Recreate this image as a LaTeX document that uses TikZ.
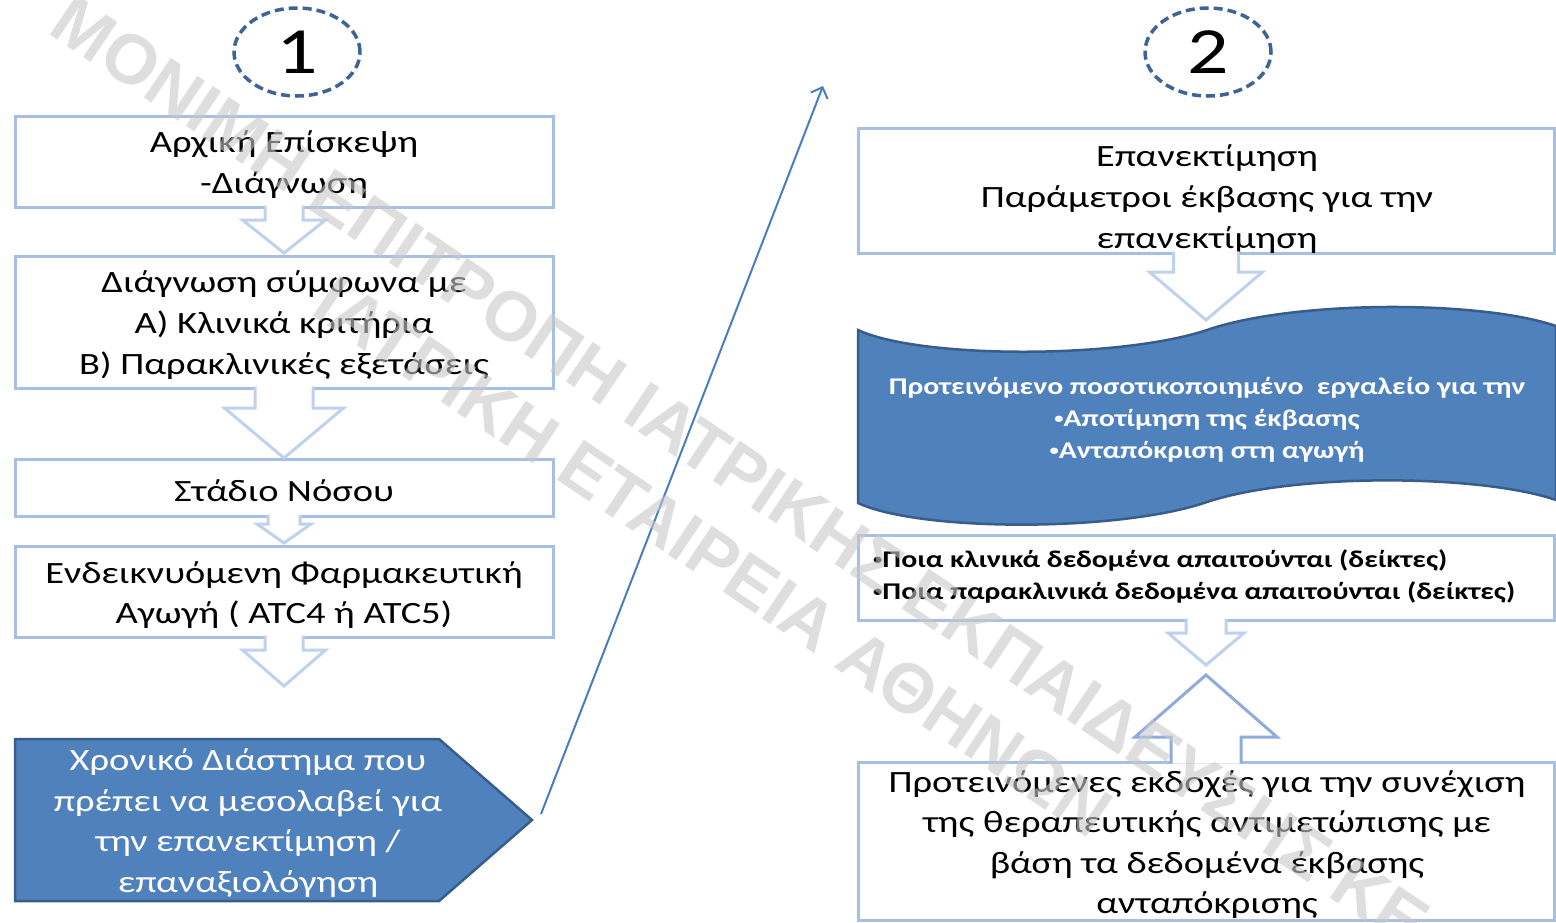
\documentclass[tikz,border=0pt]{standalone}
\usepackage{fontspec}
\setmainfont[FakeStretch=1.24]{Carlito}
\newfontfamily\wmfont{Liberation Sans}
\usetikzlibrary{arrows.meta,calc,shapes.geometric}
\definecolor{boxline}{RGB}{167,191,229}
\definecolor{arrline}{RGB}{192,209,238}
\definecolor{uparr}{RGB}{142,171,220}
\definecolor{fillblue}{RGB}{79,129,189}
\definecolor{darkblue}{RGB}{56,93,138}
\definecolor{dashblue}{RGB}{60,100,150}
\definecolor{arrowblue}{RGB}{74,126,187}
\definecolor{wmgray}{RGB}{200,200,200}
\newcommand\bigtxt{\fontsize{31}{40.6}\selectfont}
\newcommand\midtxt{\fontsize{24}{32}\selectfont\bfseries}
\newcommand\smbul{{\fontsize{15}{15}\selectfont\raisebox{3pt}{•}}}
\newcommand\blockdown[6]{%
 \begin{scope}[shift={(#1)}]
  \fill[white] (-#2,-1.6) -- (-#2,#4) -- (-#3,#4) -- (0,#5) -- (#3,#4) -- (#2,#4) -- (#2,-1.6) -- cycle;
  \draw[#6, line width=3pt, line join=miter] (-#2,-1.5) -- (-#2,#4) -- (-#3,#4) -- (0,#5) -- (#3,#4) -- (#2,#4) -- (#2,-1.5);
 \end{scope}}
\begin{document}
\begin{tikzpicture}[x=1pt,y=-1pt,
 box/.style={draw=boxline, line width=3pt, fill=white, inner sep=0pt, outer sep=0pt},
 txt/.style={align=center, font=\bigtxt, inner sep=0pt},
 numcirc/.style={ellipse, draw=dashblue, line width=3.5pt, dash pattern=on 9pt off 5pt, minimum width=126pt, minimum height=88pt, inner sep=0pt, font=\fontsize{66}{66}\selectfont},
 bluetxt/.style={text=white, align=center, inner sep=0pt},
 wmark/.style={font=\wmfont\bfseries\fontsize{70}{70}\selectfont, text=wmgray, text opacity=0.6, rotate=-34, inner sep=0pt}]
\useasboundingbox (0,0) rectangle (1556,922);
\fill[white] (0,0) rectangle (1556,922);

% number circles
\node[numcirc] (n1) at (297,52) {1};
\node[numcirc] (n2) at (1208,52) {2};

% left column
\node[box, minimum width=538pt, minimum height=91pt] (a) at (284,161.5) {};
\node[txt] (atext) at ($(a.center)+(0,3)$) {Αρχική Επίσκεψη\\-Διάγνωση};
\node[box, minimum width=538pt, minimum height=132pt] (b) at (284,322) {};
\node[txt] (btext) at ($(b.center)+(0,3)$) {Διάγνωση σύμφωνα με\\Α) Κλινικά κριτήρια\\Β) Παρακλινικές εξετάσεις};
\node[box, minimum width=538pt, minimum height=57pt] (c) at (284,487.5) {};
\node[txt] (ctext) at ($(c.center)+(0,3)$) {Στάδιο Νόσου};
\node[box, minimum width=538pt, minimum height=91pt] (d) at (284,591.5) {};
\node[txt] (dtext) at ($(d.center)+(0,3.5)$) {Ενδεικνυόμενη Φαρμακευτική\\Αγωγή ( ATC4 ή ATC5)};

\blockdown{a.south}{19}{41.5}{13}{46}{arrline}
\blockdown{b.south}{29}{59.5}{20}{70}{arrline}
\blockdown{c.south}{16}{27}{8}{27}{arrline}
\blockdown{d.south}{19}{41.5}{13}{49}{arrline}

\draw[fill=fillblue, draw=darkblue, line width=2.5pt, line join=miter] (15,739) -- (439,739) -- (532,820) -- (439,901) -- (15,901) -- cycle;
\node[bluetxt, font=\bigtxt] (e) at (248,823) {Χρονικό Διάστημα που\\πρέπει να μεσολαβεί για\\την επανεκτίμηση /\\επαναξιολόγηση};
\coordinate (etip) at (541,814);
\coordinate (ltop) at (823,86);
\draw[arrowblue, line width=2pt, -{Straight Barb[length=9pt,width=18pt]}] (etip) -- (ltop);

% right column
\node[box, minimum width=696pt, minimum height=125pt] (f) at (1206,190.5) {};
\node[txt] (ftext) at (1207,199) {Επανεκτίμηση\\Παράμετροι έκβασης για την\\επανεκτίμηση};
\blockdown{f.south}{32.5}{56.5}{19}{67}{arrline}

\draw[fill=fillblue, draw=darkblue, line width=2.5pt]
  (858,330) .. controls (920,359) and (1120,359) .. (1207,330)
  .. controls (1294,300) and (1480,300) .. (1556,326)
  -- (1556,500) .. controls (1480,474) and (1294,473) .. (1207,502)
  .. controls (1120,532) and (920,532) .. (858,503) -- cycle;
\node[bluetxt, font=\midtxt] (g) at (1207,420) {Προτεινόμενο ποσοτικοποιημένο \ εργαλείο για την\\\smbul Αποτίμηση της έκβασης\\\smbul Ανταπόκριση στη αγωγή};

\node[box, minimum width=696pt, minimum height=85pt] (h) at (1206,577.5) {};
\node[align=left, font=\midtxt, anchor=west, inner sep=0pt] (htext) at (873,576) {\smbul Ποια κλινικά δεδομένα απαιτούνται (δείκτες)\\\smbul Ποια παρακλινικά δεδομένα απαιτούνται (δείκτες)};
\blockdown{h.south}{20}{38}{13}{45}{arrline}

\node[box, minimum width=696pt, minimum height=158pt] (i) at (1206,841) {};
\node[txt] (itext) at (1207,844.5) {Προτεινόμενες εκδοχές για την συνέχιση\\της θεραπευτικής αντιμετώπισης με\\βάση τα δεδομένα έκβασης\\ανταπόκρισης};
\begin{scope}[shift={(i.north)}]
 \fill[white] (-35,1.6) -- (-35,-25) -- (-71,-25) -- (0,-87) -- (71,-25) -- (35,-25) -- (35,1.6) -- cycle;
 \draw[uparr, line width=3pt, line join=miter] (-35,1.5) -- (-35,-25) -- (-71,-25) -- (0,-87) -- (71,-25) -- (35,-25) -- (35,1.5);
\end{scope}

% watermark
\node[wmark, anchor=west] (w1) at (60,12) {ΜΟΝΙΜΗ ΕΠΙΤΡΟΠΗ ΙΑΤΡΙΚΗΣ ΕΚΠΑΙΔΕΥΣΗΣ ΚΕ};
\node[wmark, anchor=east] (w2) at (1104,820) {ΙΑΤΡΙΚΗ ΕΤΑΙΡΕΙΑ ΑΘΗΝΩΝ};
\end{tikzpicture}
\end{document}
